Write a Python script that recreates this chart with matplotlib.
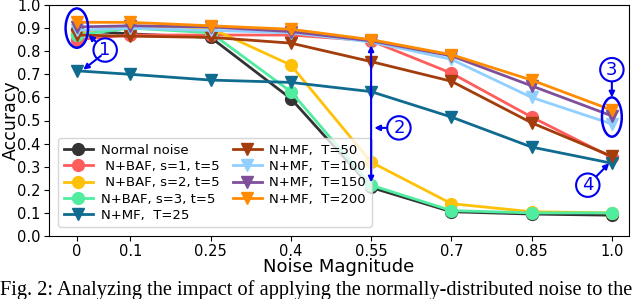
import matplotlib
matplotlib.use("Agg")
import matplotlib.pyplot as plt
from matplotlib.patches import Ellipse

noise = [0, 0.1, 0.25, 0.4, 0.55, 0.7, 0.85, 1.0]
tick_labels = ["0", "0.1", "0.25", "0.4", "0.55", "0.7", "0.85", "1.0"]

normal = [0.89, 0.875, 0.86, 0.595, 0.21, 0.105, 0.095, 0.09]
baf_s1 = [0.85, 0.87, 0.87, 0.87, 0.845, 0.705, 0.515, 0.34]
baf_s2 = [0.88, 0.91, 0.90, 0.74, 0.32, 0.14, 0.105, 0.10]
baf_s3 = [0.87, 0.90, 0.88, 0.625, 0.22, 0.11, 0.10, 0.10]
mf_25 = [0.715, 0.70, 0.675, 0.665, 0.625, 0.515, 0.385, 0.315]
mf_50 = [0.87, 0.865, 0.86, 0.835, 0.755, 0.67, 0.49, 0.345]
mf_100 = [0.89, 0.90, 0.89, 0.88, 0.84, 0.765, 0.60, 0.485]
mf_150 = [0.905, 0.91, 0.905, 0.885, 0.845, 0.78, 0.65, 0.52]
mf_200 = [0.925, 0.925, 0.91, 0.895, 0.85, 0.785, 0.675, 0.545]

series = [
    ("Normal noise", normal, "o", "#333333"),
    (" N+BAF, s=1, t=5", baf_s1, "o", "#ff5c5c"),
    (" N+BAF, s=2, t=5", baf_s2, "o", "#ffc107"),
    ("N+BAF, s=3, t=5", baf_s3, "o", "#50eca0"),
    ("N+MF,  T=25", mf_25, "v", "#0f6b8f"),
    ("N+MF,  T=50", mf_50, "v", "#a33d0b"),
    ("N+MF,  T=100", mf_100, "v", "#90cfff"),
    ("N+MF,  T=150", mf_150, "v", "#7f4f9b"),
    ("N+MF,  T=200", mf_200, "v", "#ff8c00"),
]

fig = plt.figure(figsize=(6.4, 2.99), dpi=100)
ax = fig.add_axes([49/640, 1 - 236/299, (629-49)/640, (236-5)/299])

for label, vals, m, c in series:
    ax.plot(noise, vals, marker=m, color=c, label=label, lw=2, ms=9 if m == "v" else 8.5)

ax.set_xlim(-0.052, 1.032)
ax.set_ylim(0, 1.0)
ax.set_xticks(noise)
ax.set_xticklabels(tick_labels)
ax.set_yticks([i/10 for i in range(11)])
ax.tick_params(labelsize=10.5, pad=2.5)
ax.set_xlabel("Noise Magnitude", fontsize=13)
ax.set_ylabel("Accuracy", fontsize=12.5)
ax.xaxis.set_label_coords(0.5, -(267 - 236) / 231, transform=ax.transAxes)
ax.xaxis.label.set_va("center")
ax.yaxis.set_label_coords(-(49 - 10.5) / 580, 0.5, transform=ax.transAxes)
ax.yaxis.label.set_va("center")

ax.legend(ncol=2, loc="lower left", fontsize=9.5, bbox_to_anchor=(0.005, 0.01),
          handlelength=2.2, handletextpad=0.6, columnspacing=1.0, labelspacing=0.25,
          borderpad=0.4, framealpha=0.8)

blue = "#0000ee"
ax.add_patch(Ellipse((0, 0.90), 0.042, 0.17, fill=False, ec=blue, lw=1.8, zorder=10))
ax.add_patch(Ellipse((1.0, 0.515), 0.037, 0.17, fill=False, ec=blue, lw=1.8, zorder=10))

circ = dict(boxstyle="circle,pad=0.15", fc="white", ec=blue, lw=1.5)
ap = dict(arrowstyle="-|>", color=blue, lw=1.5, mutation_scale=8, shrinkA=0, shrinkB=0)
ax.annotate("1", xy=(0.022, 0.87), xytext=(0.053, 0.805), color=blue, fontsize=13,
            ha="center", va="center", bbox=circ, arrowprops=ap, zorder=11)
ax.annotate("", xy=(0.012, 0.72), xytext=(0.045, 0.78), arrowprops=ap, zorder=11)
ax.annotate("", xy=(0.55, 0.825), xytext=(0.55, 0.232),
            arrowprops=dict(arrowstyle="<|-|>", color=blue, lw=1.5, mutation_scale=8,
                            shrinkA=0, shrinkB=0), zorder=11)
ax.annotate("2", xy=(0.556, 0.468), xytext=(0.602, 0.468), color=blue, fontsize=13,
            ha="center", va="center", bbox=circ, arrowprops=ap, zorder=11)
ax.annotate("3", xy=(1.0, 0.60), xytext=(1.0, 0.72), color=blue, fontsize=13,
            ha="center", va="center", bbox=circ, arrowprops=ap, zorder=11)
ax.annotate("4", xy=(0.995, 0.315), xytext=(0.955, 0.22), color=blue, fontsize=13,
            ha="center", va="center", bbox=circ, arrowprops=ap, zorder=11)

fig.text(0.0, 4.5 / 299, "Fig. 2: Analyzing the impact of applying the normally-distributed noise to the",
         family="Liberation Serif", fontsize=14.7, ha="left", va="baseline")

fig.savefig("out.png", dpi=100)
